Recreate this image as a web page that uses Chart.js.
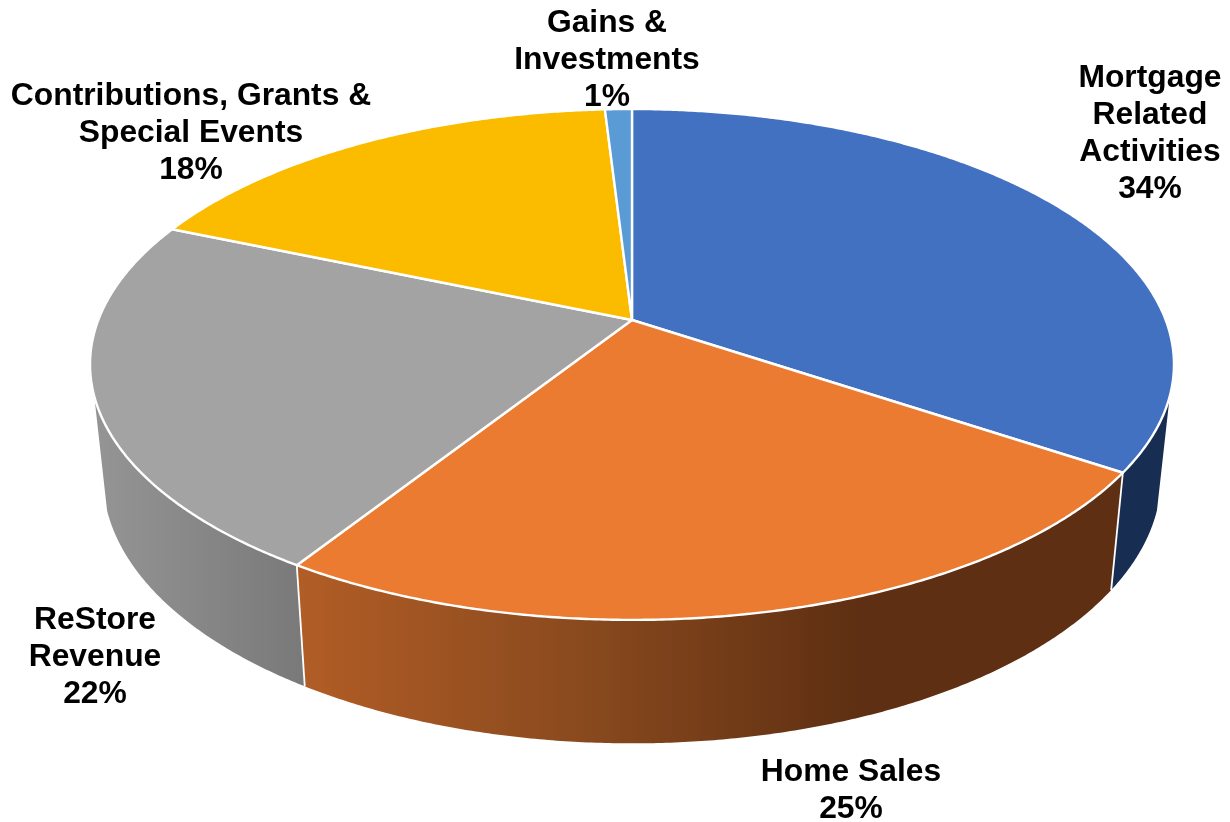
<!DOCTYPE html>
<html>
<head>
<meta charset="utf-8">
<style>html,body{margin:0;padding:0;background:#fff}#w{width:1230px;height:822px}</style>
<script src="https://cdn.jsdelivr.net/npm/chart.js@4"></script>
</head>
<body>
<div id="w"><canvas id="c" width="1230" height="822"></canvas></div>
<script>
const categories = ['Mortgage Related Activities','Home Sales','ReStore Revenue','Contributions, Grants & Special Events','Gains & Investments'];
const values = [34.4, 24.6, 22.4, 17.65, 0.95];
const topColors = ['#4271C2','#EB7B31','#A3A3A3','#FBBC00','#5B9BD5'];

const labelLines = [
  ['Mortgage','Related','Activities'],
  ['Home Sales'],
  ['ReStore','Revenue'],
  ['Contributions, Grants &','Special Events'],
  ['Gains &','Investments']
];
const labelAnchors = [[1150,78],[851,772],[95,620],[191,96],[607,23]];

// perspective of the pie disc: top face and bottom face
const K = 0.174;
const topFace = {cx:632, cy:320, a:533.7, b:247.7};
const botFace = {cx:632, cy:431, a:521, b:258};
const proj = (f, ang, r=1) => {
  const u = r*Math.cos(ang), v = r*Math.sin(ang), w = 1 - K*v;
  return [f.cx + f.a*u/w, f.cy + f.b*v/w];
};
const WALL_START = 17*Math.PI/180, WALL_END = 163*Math.PI/180;

function wallFill(ctx, i){
  if(i===1){
    const g = ctx.createLinearGradient(296,0,860,0);
    g.addColorStop(0,'#B25D26'); g.addColorStop(0.5,'#8A4A1E'); g.addColorStop(1,'#5E2F12');
    return g;
  }
  if(i===2){
    const g = ctx.createLinearGradient(93,0,305,0);
    g.addColorStop(0,'#959595'); g.addColorStop(1,'#797979');
    return g;
  }
  return '#182D52';
}
function arcPts(f, a0, a1){
  const n = Math.max(2, Math.ceil(Math.abs(a1-a0)/(0.4*Math.PI/180)));
  const p = [];
  for(let k=0;k<=n;k++) p.push(proj(f, a0+(a1-a0)*k/n));
  return p;
}
const pie3d = {
  id:'pie3d',
  beforeDatasetsDraw(chart){
    const ctx = chart.ctx, arcs = chart.getDatasetMeta(0).data;
    ctx.save();
    ctx.lineJoin = 'round';
    // side walls
    arcs.forEach((el,i)=>{
      let a0 = el.startAngle, a1 = el.endAngle;
      if(a0 < -1e-6 && a1 > 0 && a1 < Math.PI){ a0 = 0; }
      a0 = Math.max(a0, WALL_START); a1 = Math.min(a1, WALL_END);
      if(a1 <= a0) return;
      const t = arcPts(topFace,a0,a1), b = arcPts(botFace,a0,a1).reverse();
      ctx.beginPath();
      t.concat(b).forEach((p,k)=> k?ctx.lineTo(p[0],p[1]):ctx.moveTo(p[0],p[1]));
      ctx.closePath();
      ctx.fillStyle = wallFill(ctx,i);
      ctx.fill();
    });
    // wall separators
    ctx.strokeStyle = '#fff'; ctx.lineWidth = 1.8;
    arcs.forEach(el=>{
      const a = el.endAngle;
      if(a>WALL_START && a<WALL_END){
        const t = proj(topFace,a), b = proj(botFace,a);
        ctx.beginPath(); ctx.moveTo(t[0],t[1]); ctx.lineTo(b[0],b[1]); ctx.stroke();
      }
    });
    // top faces
    ctx.lineWidth = 2.4;
    arcs.forEach((el,i)=>{
      const p = arcPts(topFace, el.startAngle, el.endAngle);
      ctx.beginPath();
      ctx.moveTo(topFace.cx, topFace.cy);
      p.forEach(q=>ctx.lineTo(q[0],q[1]));
      ctx.closePath();
      ctx.fillStyle = el.options.backgroundColor;
      ctx.fill();
      ctx.stroke();
    });
    // labels
    const total = values.reduce((s,x)=>s+x,0);
    ctx.fillStyle = '#000';
    ctx.font = 'bold 31.8px "Liberation Sans", Arial, sans-serif';
    ctx.textAlign = 'center';
    ctx.textBaseline = 'middle';
    const LH = 37;
    labelLines.forEach((lines,i)=>{
      const [x,y] = labelAnchors[i];
      lines.concat([Math.round(values[i]/total*100)+'%']).forEach((s,k)=>ctx.fillText(s,x,y+k*LH));
    });
    ctx.restore();
    return false;
  }
};
new Chart(document.getElementById('c'),{
  type:'pie',
  data:{labels:categories,datasets:[{data:values,backgroundColor:topColors,borderColor:'#fff',borderWidth:2}]},
  options:{
    responsive:false,animation:false,
    plugins:{legend:{display:false},tooltip:{enabled:false}}
  },
  plugins:[pie3d]
});
</script>
</body>
</html>
